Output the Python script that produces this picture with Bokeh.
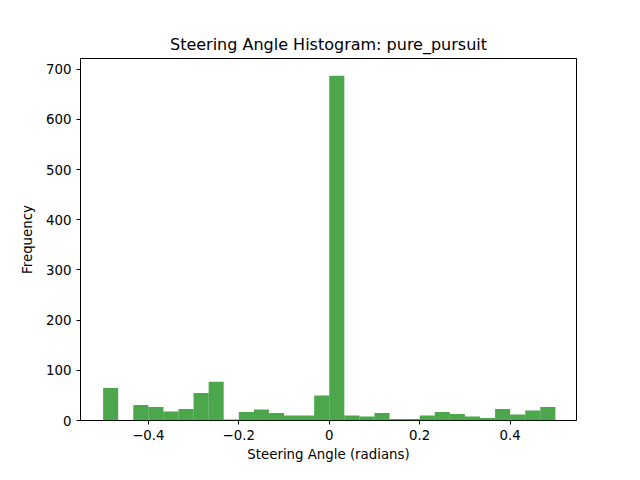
from bokeh.plotting import figure
from bokeh.models import FixedTicker, Range1d
from bokeh.embed import file_html
from bokeh.resources import INLINE

# 30 bins between -0.5 and 0.5 rad
edges = [-0.5 + k / 30 for k in range(31)]
counts = [65, 0, 31, 27, 18, 23, 55, 77, 2, 17, 22, 15, 10, 10, 50,
          687, 10, 8, 15, 3, 3, 10, 17, 13, 8, 5, 23, 12, 20, 27]

FONT = "DejaVu Sans"

p = figure(width=624, height=464, output_backend="svg", toolbar_location=None,
           title="Steering Angle Histogram: pure_pursuit",
           x_axis_label="Steering Angle (radians)", y_axis_label="Frequency",
           x_range=Range1d(-0.55, 0.5467), y_range=Range1d(0, 721.35),
           min_border_left=80, min_border_right=48, min_border_top=58, min_border_bottom=37)

p.quad(left=edges[:-1], right=edges[1:], bottom=0, top=counts,
       fill_color="green", fill_alpha=0.7, line_color=None)

p.title.align = "center"
p.title.text_font = FONT
p.title.text_font_size = "12pt"
p.title.text_font_style = "normal"
p.title.text_color = "black"
p.xgrid.visible = False
p.ygrid.visible = False
p.outline_line_color = "black"
p.outline_line_alpha = 1
p.xaxis.ticker = FixedTicker(ticks=[-0.4, -0.2, 0.0, 0.2, 0.4])
p.yaxis.ticker = FixedTicker(ticks=list(range(0, 800, 100)))
for ax in (p.xaxis[0], p.yaxis[0]):
    ax.axis_label_text_font = FONT
    ax.axis_label_text_font_style = "normal"
    ax.axis_label_text_font_size = "10pt"
    ax.axis_label_text_color = "black"
    ax.major_label_text_font = FONT
    ax.major_label_text_font_size = "10pt"
    ax.major_label_text_color = "black"
    ax.major_tick_line_color = "black"
    ax.minor_tick_line_color = None
    ax.major_tick_in = 0
    ax.major_tick_out = 4
    ax.axis_line_color = None
p.xaxis.axis_label_standoff = 4
p.yaxis.axis_label_standoff = 8

open("out.html", "w").write(file_html(p, INLINE))
